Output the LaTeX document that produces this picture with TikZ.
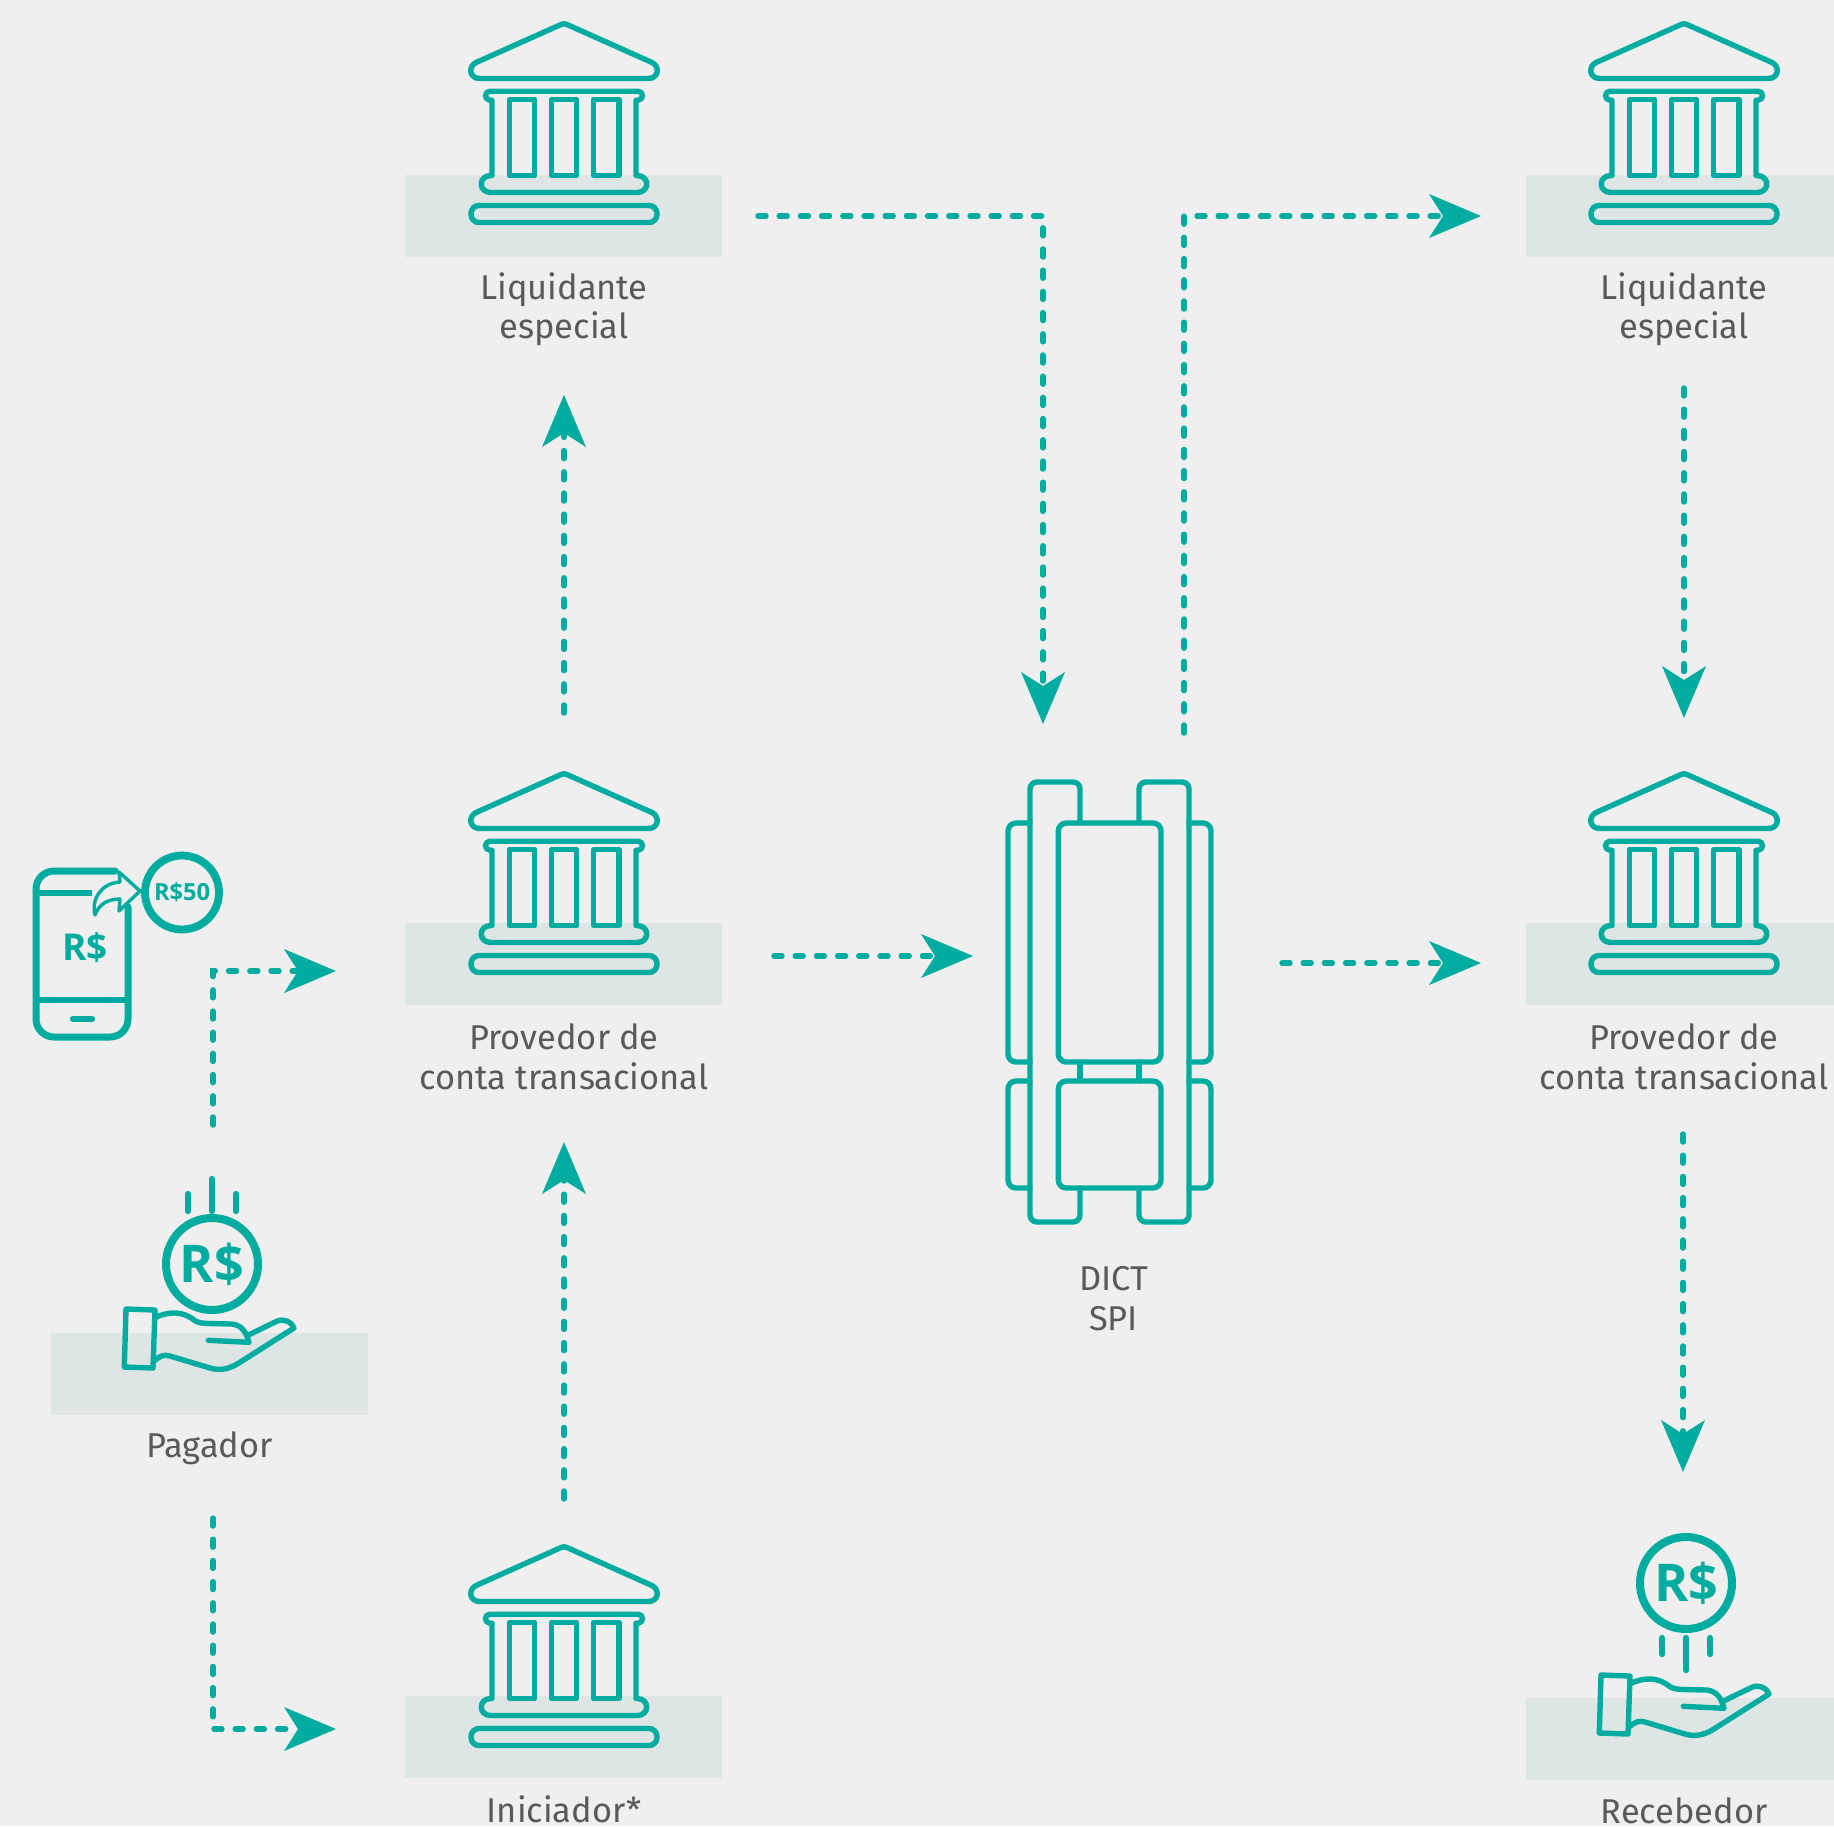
\documentclass[tikz,border=0pt]{standalone}
\usepackage{fontspec}
\setmainfont{Fira Sans}
\newfontfamily\iconfont{Open Sans}
\usetikzlibrary{arrows.meta}
\definecolor{bgc}{HTML}{EFEFEF}
\definecolor{band}{HTML}{DDE6E4}
\definecolor{teal}{HTML}{00AC9F}
\definecolor{txt}{HTML}{58595B}
\tikzset{
  icon/.style={draw=teal,line width=2.7pt,line join=round,line cap=round},
  bandbox/.style={fill=band,draw=none},
  flow/.style={draw=teal,line width=2.7pt,line cap=round,dash pattern=on 4pt off 6.6pt,
     -{Stealth[length=26pt,width=22pt,inset=7pt,fill=teal,line width=0pt]}},
  lbl/.style={text=txt,font=\fontsize{17.2}{18}\selectfont,anchor=base,inner sep=0pt},
  money/.style={text=teal,font=\iconfont\bfseries\fontsize{26}{26}\selectfont,inner sep=0pt},
}
\newcommand{\bankicon}[2]{%
\begin{scope}[shift={(#1,#2)}]
\draw[icon] (-3,1) .. controls (-1,0) and (1,0) .. (3,1) -- (88,39) .. controls (96,43) and (95,55) .. (84,55) -- (-84,55) .. controls (-95,55) and (-96,43) .. (-88,39) -- cycle;
\draw[icon] (-72,76.7) -- (-74,76.7) .. controls (-80,76.7) and (-80,67.7) .. (-74,67.7) -- (74,67.7) .. controls (80,67.7) and (80,76.7) .. (74,76.7) -- (72,76.7) -- (72,152) -- (73,152) .. controls (86,152) and (86,169) .. (73,169) -- (-73,169) .. controls (-86,169) and (-86,152) .. (-73,152) -- (-72,152) -- cycle;
\draw[icon] (-54.7,76) rectangle (-29.3,152);
\draw[icon] (-12.7,76) rectangle (12.7,152);
\draw[icon] (29.7,76) rectangle (55,152);
\draw[icon,rounded corners=4pt] (-93,182) rectangle (93,199);
\end{scope}}
\newcommand{\handicon}{%
\draw[icon] (1601,1675) -- (1630,1676) -- (1628,1734) -- (1599.3,1733) -- cycle;
\draw[icon] (1630.7,1683.3) .. controls (1645,1677) and (1658,1677) .. (1670,1686.7) .. controls (1674,1689) and (1678,1689.3) .. (1684,1689.5) -- (1706.7,1690) .. controls (1716,1691) and (1721,1697) .. (1724,1708.3) -- (1683.3,1706.3);
\draw[icon] (1724,1700.7) -- (1751.7,1687.3) .. controls (1759,1684) and (1767,1688) .. (1769,1694) -- (1713.3,1729.3) .. controls (1704,1735) and (1695,1737) .. (1685,1734) -- (1645,1722) .. controls (1639,1720) and (1635,1722) .. (1629.3,1726.7);}
\begin{document}
\begin{tikzpicture}[x=0.5pt,y=-0.5pt]
\useasboundingbox (0,0) rectangle (1834,1826);
\fill[bgc] (0,0) rectangle (1834,1826);
% bands
\fill[bandbox] (405,175) rectangle (722,257);
\fill[bandbox] (1526,175) rectangle (1834,257);
\fill[bandbox] (405,923) rectangle (722,1005);
\fill[bandbox] (1526,923) rectangle (1834,1005);
\fill[bandbox] (405,1696) rectangle (722,1778);
\fill[bandbox] (1526,1698) rectangle (1834,1780);
\fill[bandbox] (51,1333) rectangle (368,1415);
% banks
\bankicon{564}{23.5}
\bankicon{1684}{23.5}
\bankicon{564}{773.5}
\bankicon{1684}{773.5}
\bankicon{564}{1546.5}
% DICT icon
\draw[icon,rounded corners=3.5pt] (1030,1062) -- (1030,782) -- (1080,782) -- (1080,823);
\draw[icon,rounded corners=3.5pt] (1030,1062) -- (1030,1222) -- (1080,1222) -- (1080,1188);
\draw[icon,rounded corners=3.5pt] (1189,1062) -- (1189,782) -- (1139,782) -- (1139,823);
\draw[icon,rounded corners=3.5pt] (1189,1062) -- (1189,1222) -- (1139,1222) -- (1139,1188);
\draw[icon] (1080,1062) -- (1080,1081) (1139,1062) -- (1139,1081);
\draw[icon,rounded corners=4pt] (1058.3,823) rectangle (1161,1062);
\draw[icon,rounded corners=4pt] (1058.3,1081) rectangle (1161,1188);
\draw[icon,rounded corners=4pt] (1030,823) -- (1008,823) -- (1008,1062) -- (1030,1062);
\draw[icon,rounded corners=4pt] (1030,1081) -- (1008,1081) -- (1008,1188) -- (1030,1188);
\draw[icon,rounded corners=4pt] (1189,823) -- (1211,823) -- (1211,1062) -- (1189,1062);
\draw[icon,rounded corners=4pt] (1189,1081) -- (1211,1081) -- (1211,1188) -- (1189,1188);
% phone
\draw[icon,line width=3.5pt,rounded corners=9pt] (115,871) -- (36,871) -- (36,1037) -- (128,1037) -- (128,907);
\draw[icon,line width=3.2pt,line cap=butt] (36,893) -- (92,893) (36,1000) -- (128,1000);
\draw[icon,line width=3.2pt] (73,1019) -- (92,1019);
\node[money,font=\iconfont\bfseries\fontsize{18.5}{19}\selectfont] (phonemoney) at (85,948) {R\$};
\draw[icon,line width=1.7pt,fill=bgc] (120,882) -- (119,872) -- (140,891) -- (119,911) -- (120,899) .. controls (108,899) and (99,904) .. (95,915) .. controls (91,898) and (102,883) .. (120,882) -- cycle;
\draw[icon,line width=3.9pt] (182,892.5) circle[radius=37];
\node[money,font=\iconfont\bfseries\fontsize{11.8}{12}\selectfont] (coinfifty) at (182,892.5) {R\$50};
% pagador icon
\draw[icon,line width=4pt] (212,1264) circle[radius=46];
\node[money] (coinpay) at (212,1264) {R\$};
\draw[icon,line width=3.2pt] (212,1179) -- (212,1211) (188,1194) -- (188,1211) (236,1194) -- (236,1211);
\begin{scope}[shift={(-1475,-366)}]\handicon\end{scope}
% recebedor icon
\draw[icon,line width=4pt] (1686,1583) circle[radius=46];
\node[money] (coinrec) at (1686,1583) {R\$};
\draw[icon,line width=3.2pt] (1686,1638) -- (1686,1670) (1662,1638) -- (1662,1654) (1710,1638) -- (1710,1654);
\handicon
% labels
\node[lbl] (liqa) at (564,299) {Liquidante};
\node[lbl] (liqb) at (564,338.5) {especial};
\node[lbl] (liqc) at (1684,299) {Liquidante};
\node[lbl] (liqd) at (1684,338.5) {especial};
\node[lbl] (prova) at (564,1049.5) {Provedor de};
\node[lbl] (provb) at (564,1089) {conta transacional};
\node[lbl] (provc) at (1684,1049.5) {Provedor de};
\node[lbl] (provd) at (1684,1089) {conta transacional};
\node[lbl] (dict) at (1113.5,1290) {DICT};
\node[lbl] (spi) at (1113.5,1330) {SPI};
\node[lbl] (pag) at (209.5,1457) {Pagador};
\node[lbl] (ini) at (564,1822) {Iniciador*};
\node[lbl] (rec) at (1684,1823) {Recebedor};
% connector ends
\coordinate (a1) at (758,216); \coordinate (a2) at (1043,216); \coordinate (a3) at (1043,724);
\coordinate (b1) at (1184,733); \coordinate (b2) at (1184,216); \coordinate (b3) at (1481,216);
\coordinate (c1) at (1684,388); \coordinate (c2) at (1684,718);
\coordinate (d1) at (564,713); \coordinate (d2) at (564,395);
\coordinate (e1) at (564,1499); \coordinate (e2) at (564,1142);
\coordinate (f1) at (774,956); \coordinate (f2) at (973,956);
\coordinate (g1) at (1282,963); \coordinate (g2) at (1481,963);
\coordinate (h1) at (1683,1134); \coordinate (h2) at (1683,1472);
\coordinate (i1) at (213,1125); \coordinate (i2) at (213,971); \coordinate (i3) at (336,971);
\coordinate (j1) at (213,1518); \coordinate (j2) at (213,1729); \coordinate (j3) at (336,1729);
\draw[flow] (a1) -- (a2) -- (a3);
\draw[flow] (b1) -- (b2) -- (b3);
\draw[flow] (c1) -- (c2);
\draw[flow] (d1) -- (d2);
\draw[flow] (e1) -- (e2);
\draw[flow] (f1) -- (f2);
\draw[flow] (g1) -- (g2);
\draw[flow] (h1) -- (h2);
\draw[flow] (i1) -- (i2) -- (i3);
\draw[flow] (j1) -- (j2) -- (j3);
\end{tikzpicture}
\end{document}
